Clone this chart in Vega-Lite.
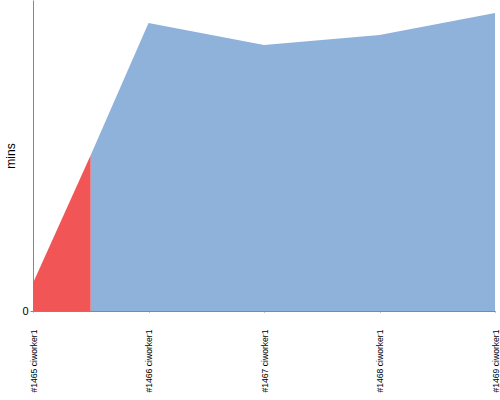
{
  "$schema": "https://vega.github.io/schema/vega-lite/v6.json",
  "autosize": "none",
  "width": 462,
  "height": 311,
  "padding": {"left": 33, "top": 0, "right": 5, "bottom": 89},
  "background": "white",
  "config": {"view": {"stroke": null}, "font": "Liberation Sans"},
  "data": {"values": [
    {"build": 0, "mins": 2.8, "status": "failed"},
    {"build": 0.5, "mins": 15.6, "status": "failed"},
    {"build": 0.5, "mins": 15.6, "status": "success"},
    {"build": 1, "mins": 28.8, "status": "success"},
    {"build": 2, "mins": 26.6, "status": "success"},
    {"build": 3, "mins": 27.6, "status": "success"},
    {"build": 4, "mins": 29.8, "status": "success"}
  ]},
  "mark": {"type": "area", "opacity": 1},
  "encoding": {
    "x": {"field": "build", "type": "quantitative",
      "scale": {"domain": [0, 4], "nice": false, "zero": false},
      "axis": {"values": [0, 1, 2, 3, 4], "title": null, "grid": false,
        "labelExpr": "['#1465 ciworker1','#1466 ciworker1','#1467 ciworker1','#1468 ciworker1','#1469 ciworker1'][datum.value]",
        "labelAngle": 270, "labelAlign": "right", "labelBaseline": "middle",
        "labelPadding": 17, "labelFontSize": 8.6, "labelColor": "#000", "labelFont": "Liberation Sans",
        "tickSize": 1, "tickColor": "#888", "domainColor": "#888", "labelOverlap": false, "labelFlush": false, "labelBound": false}},
    "y": {"field": "mins", "type": "quantitative", "stack": null,
      "scale": {"domain": [0, 31.1], "nice": false},
      "axis": {"values": [0], "title": "mins", "grid": false, "titleFontWeight": "normal",
        "titleFontSize": 12, "titleColor": "#000", "titleFont": "Liberation Sans", "titlePadding": 4,
        "labelFontSize": 11, "labelColor": "#000", "labelFont": "Liberation Sans",
        "tickSize": 3, "tickColor": "#888", "domainColor": "#888"}},
    "color": {"field": "status", "type": "nominal",
      "scale": {"domain": ["failed", "success"], "range": ["#f25555", "#8fb2da"]},
      "legend": null}
  }
}
